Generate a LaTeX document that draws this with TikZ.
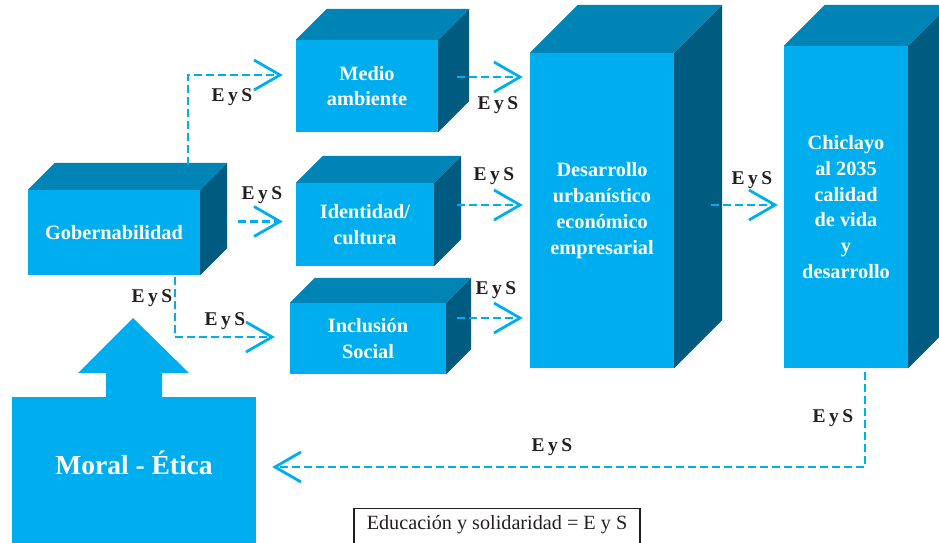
\documentclass[tikz,border=0pt]{standalone}
\usepackage{fontspec}
\setmainfont{Liberation Serif}
\usetikzlibrary{arrows.meta}
\definecolor{front}{RGB}{0,174,239}
\definecolor{topc}{RGB}{0,131,181}
\definecolor{sidec}{RGB}{0,91,128}
\definecolor{ink}{RGB}{35,31,32}
\tikzset{
  face/.style={fill=front, text=white, font=\bfseries\fontsize{20.3}{25.8}\selectfont, align=center, inner sep=0pt},
  conn/.style={draw=front, line width=2.4pt, dash pattern=on 7.5pt off 4.5pt,
    -{Straight Barb[length=26pt,width=30pt,line width=2.8pt]}},
  lab/.style={text=ink, font=\bfseries\fontsize{19.5}{20}\selectfont, inner sep=0pt},
}
\newcommand{\cubefaces}[2]{%
  \fill[topc] (#1.north west) -- ([shift={(#2,-#2)}]#1.north west) -- ([shift={(#2,-#2)}]#1.north east) -- (#1.north east) -- cycle;
  \fill[sidec] (#1.north east) -- ([shift={(#2,-#2)}]#1.north east) -- ([shift={(#2,-#2)}]#1.south east) -- (#1.south east) -- cycle;
}
\newcommand{\eys}{E\hspace{0.18em}y\hspace{0.18em}S}
\begin{document}
\begin{tikzpicture}[x=1pt,y=-1pt]
\useasboundingbox (0,0) rectangle (939,542);
\clip (0,0) rectangle (939,542);

% boxes
\node[face, minimum width=172pt, minimum height=85pt] (gob) at (114,232.5) {Gobernabilidad};
\node[face, minimum width=142pt, minimum height=92pt] (medio) at (367,86) {Medio\\ambiente};
\node[face, minimum width=138pt, minimum height=83pt] (ident) at (365,224.5) {Identidad/\\cultura};
\node[face, minimum width=156pt, minimum height=71pt] (incl) at (368,338.5) {Inclusión\\Social};
\node[face, minimum width=144pt, minimum height=315pt] (desa) at (602,210.5) {Desarrollo\\urbanístico\\económico\\empresarial};
\node[face, minimum width=124pt, minimum height=322pt] (chic) at (846,207) {Chiclayo\\al 2035\\calidad\\de vida\\y\\desarrollo};
\cubefaces{gob}{27}
\cubefaces{medio}{31}
\cubefaces{ident}{27}
\cubefaces{incl}{25}
\cubefaces{desa}{48}
\cubefaces{chic}{41}

% moral box and up arrow
\node[fill=front, text=white, inner sep=0pt, minimum width=244pt, minimum height=132pt,
  font=\bfseries\fontsize{27.5}{30}\selectfont] (moral) at (134,463) {Moral - Ética};
\fill[front] (moral.south west) rectangle ([shift={(0,30)}]moral.south east);
\fill[front] (106,397) -- (106,373) -- (78,373) -- (133,318) -- (189,373) -- (162,373) -- (162,397) -- cycle;

% legend
\node[draw=ink, line width=1.2pt, anchor=north, minimum width=286pt, text height=14pt, text depth=30pt,
  inner ysep=7pt, inner xsep=0pt, text=ink, font=\fontsize{20.2}{21}\selectfont] (legend) at (497,508)
  {Educación y solidaridad = E y S};

% connectors
\draw[conn] ([shift={(-12,-25)}]gob.north east) |- ([shift={(-13,-11)}]medio.west);
\draw[conn] ([shift={(38,-11)}]gob.east) -- ([shift={(-13,-3)}]ident.west);
\draw[conn] ([shift={(61,2)}]gob.south) |- ([shift={(-15,-1.5)}]incl.west);
\draw[conn] ([shift={(19,-9)}]medio.east) -- ([shift={(-7,-133.5)}]desa.west);
\draw[conn] ([shift={(23,-19.5)}]ident.east) -- ([shift={(-7,-5.5)}]desa.west);
\draw[conn] ([shift={(11,-20.5)}]incl.east) -- ([shift={(-7,107.5)}]desa.west);
\draw[conn] ([shift={(37,-5.5)}]desa.east) -- ([shift={(-6,-2)}]chic.west);
\draw[conn] ([shift={(19,4)}]chic.south) |- ([shift={(16,4)}]moral.east);

% labels
\node[lab] (l1) at (232,97) {\eys};
\node[lab] (l2) at (262,195) {\eys};
\node[lab] (l3) at (152,298) {\eys};
\node[lab] (l4) at (225,321) {\eys};
\node[lab] (l5) at (498,105) {\eys};
\node[lab] (l6) at (494,176) {\eys};
\node[lab] (l7) at (496,290) {\eys};
\node[lab] (l8) at (752,180) {\eys};
\node[lab] (l9) at (833,418) {\eys};
\node[lab] (l10) at (552,447) {\eys};
\end{tikzpicture}
\end{document}
